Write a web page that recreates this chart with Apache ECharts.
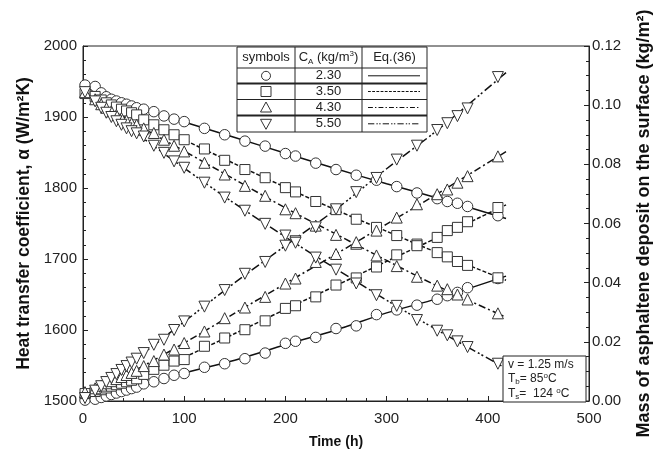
<!DOCTYPE html>
<html>
<head>
<meta charset="utf-8">
<script src="https://cdn.jsdelivr.net/npm/echarts@6/dist/echarts.min.js"></script>
<style>
  html, body { margin: 0; padding: 0; background: #fff; }
  #chart { width: 661px; height: 454px; }
</style>
</head>
<body>
<div id="chart"></div>
<script>
// Sampling times (h)
const time = [2, 12, 18, 23, 28, 33, 38, 43, 48, 53, 60, 70, 80, 90, 100, 120, 140, 160, 180, 200,
              210, 230, 250, 270, 290, 310, 330, 350, 360, 370, 380, 410];

// Heat transfer coefficient (W/m2K), one array per asphaltene concentration
const alpha230 = [1945, 1943, 1934, 1928.5, 1925, 1922.5, 1920, 1918, 1915.5, 1913, 1911, 1907.5, 1901.5, 1897, 1893.5,
                  1884, 1875, 1866, 1859, 1848.5, 1845, 1835, 1826, 1818, 1811, 1802, 1793, 1785, 1781, 1778.5, 1774, 1761];
const alpha350 = [1933, 1929, 1924, 1920, 1917, 1914, 1911, 1908.5, 1906, 1903, 1896, 1889, 1882, 1875, 1868,
                  1855, 1839, 1826, 1814.5, 1800.5, 1794.5, 1781, 1769.5, 1756, 1744.5, 1733, 1721, 1709, 1703, 1696.5, 1691, 1673.5];
const alpha430 = [1935, 1925, 1918, 1913, 1908, 1903, 1898.5, 1895, 1891, 1889, 1884, 1877.5, 1868, 1859.5, 1851.5,
                  1835.5, 1819, 1803, 1789, 1770, 1764.5, 1747, 1734, 1721.5, 1705, 1690, 1675, 1662.5, 1657.5, 1650, 1643, 1623.5];
const alpha550 = [1935, 1922, 1913, 1906, 1900, 1894, 1889, 1884, 1880, 1877, 1872.5, 1859.5, 1849.5, 1837.5, 1828.5,
                  1807.5, 1786.5, 1768, 1749.5, 1733, 1725, 1702, 1685, 1665.5, 1649, 1634, 1614, 1599, 1592.5, 1584, 1576, 1552.5];

// Deposited asphaltene mass (kg/m2)
const mass230 = [0.0003, 0.0006, 0.0012, 0.0017, 0.0022, 0.0027, 0.0032, 0.0037, 0.0042, 0.0047, 0.0058, 0.0065, 0.0076, 0.0087, 0.0093,
                 0.0114, 0.0126, 0.0143, 0.0162, 0.0195, 0.0202, 0.0215, 0.0245, 0.0254, 0.0292, 0.0308, 0.0324, 0.0344, 0.0356, 0.0367, 0.0383, 0.0414];
const mass350 = [0.0025, 0.0032, 0.0038, 0.0044, 0.005, 0.0055, 0.006, 0.0065, 0.007, 0.0075, 0.009, 0.0107, 0.0121, 0.0135, 0.014,
                 0.0185, 0.0213, 0.0241, 0.0271, 0.0313, 0.0322, 0.0352, 0.0392, 0.0416, 0.0453, 0.0494, 0.0525, 0.0553, 0.0576, 0.0587, 0.0606, 0.0654];
const mass430 = [0.003, 0.0043, 0.0052, 0.006, 0.0067, 0.0074, 0.0081, 0.0088, 0.0095, 0.0102, 0.0118, 0.0135, 0.0157, 0.0174, 0.0196,
                 0.0235, 0.028, 0.0316, 0.0352, 0.0397, 0.0414, 0.047, 0.0497, 0.0537, 0.0576, 0.062, 0.0665, 0.0699, 0.0715, 0.0738, 0.076, 0.0827];
const mass550 = [0.001, 0.0035, 0.005, 0.0064, 0.0078, 0.0091, 0.0105, 0.0118, 0.013, 0.0143, 0.0162, 0.019, 0.0207, 0.024, 0.0269,
                 0.0319, 0.0375, 0.043, 0.047, 0.0525, 0.0535, 0.0587, 0.0648, 0.0706, 0.0754, 0.0816, 0.0863, 0.0916, 0.0939, 0.0963, 0.0989, 0.1095];

// Eq.(36) model curves
const fitTime = [0, 50, 100, 150, 200, 250, 300, 350, 418];
const fitAlpha230 = [1943, 1915, 1893, 1871, 1849, 1827, 1806, 1786, 1757];
const fitAlpha350 = [1936, 1905, 1868, 1834, 1801, 1769, 1739, 1709, 1670];
const fitAlpha430 = [1936, 1892, 1852, 1812, 1772, 1735, 1698, 1662, 1618];
const fitAlpha550 = [1936, 1880, 1828, 1778, 1731, 1686, 1642, 1600, 1546];
const fitMass230 = [0, 0.0048, 0.0095, 0.0138, 0.019, 0.024, 0.0298, 0.0346, 0.0422];
const fitMass350 = [0.002, 0.0075, 0.0148, 0.0228, 0.031, 0.039, 0.0472, 0.0552, 0.0663];
const fitMass430 = [0.003, 0.0102, 0.0196, 0.0297, 0.0397, 0.0497, 0.0598, 0.070, 0.0843];
const fitMass550 = [0.002, 0.0137, 0.0268, 0.040, 0.0525, 0.0648, 0.0785, 0.0915, 0.111];

// Legend table rows
const concLabels = ['2.30', '3.50', '4.30', '5.50'];
const xTicks = [0, 100, 200, 300, 400, 500];

const FONT = '"Liberation Sans", Arial, Helvetica, sans-serif';
const INK = '#222';

const symbols = [
  { symbol: 'circle', size: 10.5, rotate: 0 },
  { symbol: 'rect', size: 10, rotate: 0 },
  { symbol: 'triangle', size: 11, rotate: 0 },
  { symbol: 'triangle', size: 11, rotate: 180 }
];
const dashes = ['solid', [4, 2], [7, 3, 2, 3], [9, 3, 2, 2, 2, 3]];

const alphaSets = [alpha230, alpha350, alpha430, alpha550];
const massSets = [mass230, mass350, mass430, mass550];
const fitAlphaSets = [fitAlpha230, fitAlpha350, fitAlpha430, fitAlpha550];
const fitMassSets = [fitMass230, fitMass350, fitMass430, fitMass550];

const pair = (xs, ys) => xs.map((x, i) => [x, ys[i]]);

const series = [];
// model curves first, so the hollow markers sit on top of them
for (let k = 0; k < 4; k++) {
  [[fitAlphaSets[k], 0], [fitMassSets[k], 1]].forEach(([ys, axis]) => {
    series.push({
      type: 'line', yAxisIndex: axis, data: pair(fitTime, ys),
      smooth: 0.3, showSymbol: false, silent: true, z: 2,
      lineStyle: { color: '#111', width: 1.5, type: dashes[k] }
    });
  });
}
for (let k = 0; k < 4; k++) {
  [[alphaSets[k], 0], [massSets[k], 1]].forEach(([ys, axis]) => {
    series.push({
      type: 'scatter', yAxisIndex: axis, data: pair(time, ys),
      symbol: symbols[k].symbol, symbolSize: symbols[k].size, symbolRotate: symbols[k].rotate,
      z: 3,
      itemStyle: { color: '#fff', borderColor: '#333', borderWidth: 1, opacity: 1 }
    });
  });
}

// ---- legend table (top centre of the plot) ----
const tX0 = 237, tX1 = 427, tY0 = 47, tY1 = 132;
const colX = [295, 362];
const rowY = [68, 83.5, 99.5, 115.5];
const rowMid = [75.8, 91.5, 107.5, 123.8];
const colMid = [266, 328.5, 394.5];
const g = [];
g.push({ type: 'rect', shape: { x: tX0, y: tY0, width: tX1 - tX0, height: tY1 - tY0 },
         style: { fill: '#fff', stroke: INK, lineWidth: 1 }, z: 100 });
colX.forEach(x => g.push({ type: 'line', shape: { x1: x, y1: tY0, x2: x, y2: tY1 },
                           style: { stroke: INK, lineWidth: 1 }, z: 101 }));
rowY.forEach((y, i) => g.push({ type: 'line', shape: { x1: tX0, y1: y, x2: tX1, y2: y },
                                style: { stroke: INK, lineWidth: (i === 1 || i === 3) ? 2 : 1 }, z: 101 }));
const txt = (x, y, text, extra) => Object.assign({
  type: 'text', x: x, y: y, z: 102,
  style: Object.assign({ text: text, fill: INK, font: '13px ' + FONT, align: 'center', verticalAlign: 'middle' }, extra || {})
});
g.push(txt(colMid[0], 57.5, 'symbols'));
g.push({
  type: 'text', x: colMid[1], y: 57.5, z: 102,
  style: {
    text: '{m|C}{s|A}{m| (kg/m}{p|3}{m|)}', align: 'center', verticalAlign: 'middle',
    rich: {
      m: { fontSize: 13, fontFamily: FONT, fill: INK, lineHeight: 16 },
      s: { fontSize: 8, fontFamily: FONT, fill: INK, lineHeight: 10, verticalAlign: 'bottom' },
      p: { fontSize: 8, fontFamily: FONT, fill: INK, lineHeight: 10, verticalAlign: 'top' }
    }
  }
});
g.push(txt(colMid[2], 57.5, 'Eq.(36)'));
concLabels.forEach((c, i) => g.push(txt(colMid[1], rowMid[i], c)));
// marker glyphs in the first column
g.push({ type: 'circle', shape: { cx: colMid[0], cy: rowMid[0], r: 4.5 },
         style: { fill: '#fff', stroke: '#333', lineWidth: 1 }, z: 102 });
g.push({ type: 'rect', shape: { x: colMid[0] - 5, y: rowMid[1] - 5, width: 10, height: 10 },
         style: { fill: '#fff', stroke: '#333', lineWidth: 1 }, z: 102 });
g.push({ type: 'polygon', shape: { points: [[colMid[0], rowMid[2] - 5.5], [colMid[0] + 5.5, rowMid[2] + 4.5], [colMid[0] - 5.5, rowMid[2] + 4.5]] },
         style: { fill: '#fff', stroke: '#333', lineWidth: 1 }, z: 102 });
g.push({ type: 'polygon', shape: { points: [[colMid[0], rowMid[3] + 5.5], [colMid[0] + 5.5, rowMid[3] - 4.5], [colMid[0] - 5.5, rowMid[3] - 4.5]] },
         style: { fill: '#fff', stroke: '#333', lineWidth: 1 }, z: 102 });
// line samples in the Eq.(36) column
dashes.forEach((d, i) => g.push({
  type: 'line', shape: { x1: 368, y1: rowMid[i], x2: 420, y2: rowMid[i] }, z: 102,
  style: { stroke: '#111', lineWidth: 1, lineDash: d === 'solid' ? null : d.map(v => v * 0.7) }
}));

// ---- operating conditions box (bottom right) ----
g.push({ type: 'rect', shape: { x: 503, y: 356, width: 83, height: 46 },
         style: { fill: '#fff', stroke: INK, lineWidth: 1 }, z: 100 });
const condRich = {
  m: { fontSize: 12, fontFamily: FONT, fill: INK, lineHeight: 14 },
  s: { fontSize: 8, fontFamily: FONT, fill: INK, lineHeight: 9, verticalAlign: 'bottom' },
  p: { fontSize: 8, fontFamily: FONT, fill: INK, lineHeight: 9, verticalAlign: 'top' }
};
const cond = (y, text) => ({ type: 'text', x: 508, y: y, z: 102,
  style: { text: text, align: 'left', verticalAlign: 'middle', rich: condRich } });
g.push(cond(364.5, '{m|v = 1.25 m/s}'));
g.push(cond(379, '{m|T}{s|b}{m|= 85}{p|o}{m|C}'));
g.push(cond(393.5, '{m|T}{s|s}{m|=  124 }{p|o}{m|C}'));

const chart = echarts.init(document.getElementById('chart'), null, { renderer: 'canvas' });
chart.setOption({
  animation: false,
  backgroundColor: '#fff',
  grid: { left: 83, right: 71, top: 46, bottom: 50, show: true, borderColor: INK, borderWidth: 1 },
  xAxis: {
    type: 'value', min: xTicks[0], max: xTicks[xTicks.length - 1], interval: 100,
    name: 'Time (h)', nameLocation: 'middle', nameGap: 34,
    nameTextStyle: { fontFamily: FONT, fontWeight: 'bold', fontSize: 14, color: '#111' },
    axisLine: { lineStyle: { color: INK, width: 1 } },
    axisTick: { inside: true, length: 5, lineStyle: { color: INK } },
    minorTick: { show: true, splitNumber: 5, length: 3, lineStyle: { color: INK } },
    splitLine: { show: false },
    axisLabel: { fontFamily: FONT, fontSize: 15, color: INK, margin: 10 }
  },
  yAxis: [
    {
      type: 'value', position: 'left', min: 1500, max: 2000, interval: 100,
      name: 'Heat transfer coefficient, \u03b1 (W/m\u00b2K)', nameLocation: 'middle', nameGap: 47, nameRotate: 90,
      nameTextStyle: { fontFamily: FONT, fontWeight: 'bold', fontSize: 17.5, color: '#111' },
      axisLine: { show: true, lineStyle: { color: INK, width: 1 } },
      axisTick: { inside: true, length: 5, lineStyle: { color: INK } },
      minorTick: { show: true, splitNumber: 5, length: 3, lineStyle: { color: INK } },
      splitLine: { show: false },
      axisLabel: { fontFamily: FONT, fontSize: 15, color: INK, margin: 6, formatter: v => String(v) }
    },
    {
      type: 'value', position: 'right', min: 0, max: 0.12, interval: 0.02,
      name: 'Mass of asphaltene deposit on the surface (kg/m\u00b2)', nameLocation: 'middle', nameGap: 46, nameRotate: 90,
      nameTextStyle: { fontFamily: FONT, fontWeight: 'bold', fontSize: 18, color: '#111' },
      axisLine: { show: true, lineStyle: { color: INK, width: 1 } },
      axisTick: { inside: true, length: 5, lineStyle: { color: INK } },
      minorTick: { show: true, splitNumber: 4, length: 3, lineStyle: { color: INK } },
      splitLine: { show: false },
      axisLabel: { fontFamily: FONT, fontSize: 15, color: INK, margin: 3, formatter: v => v.toFixed(2) }
    }
  ],
  series: series,
  graphic: g
});
</script>
</body>
</html>
